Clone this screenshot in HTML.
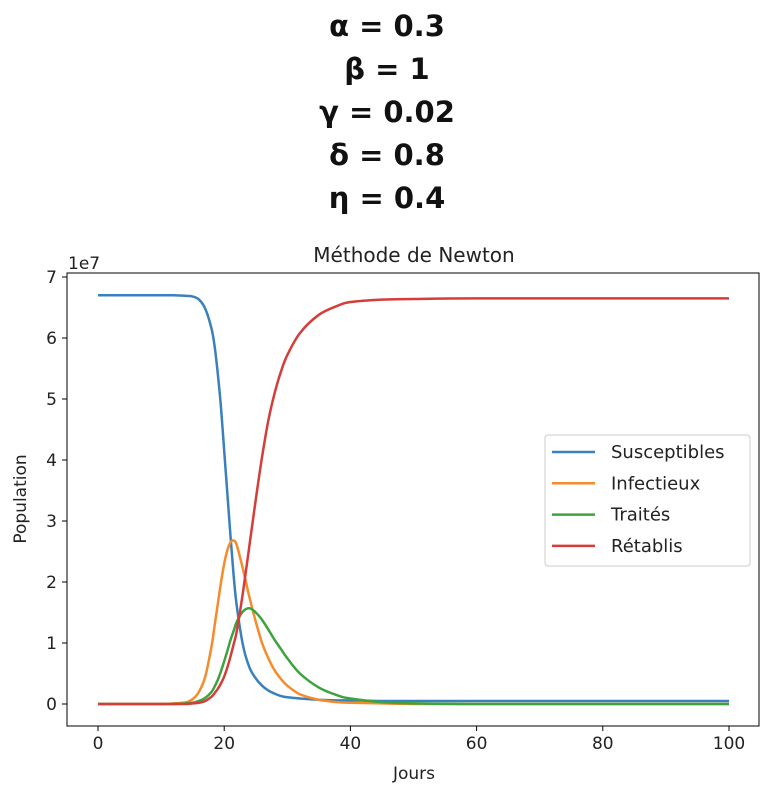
<!DOCTYPE html>
<html><head><meta charset="utf-8"><style>
body{margin:0;background:#fff;width:774px;height:804px;overflow:hidden}
.h{position:absolute;left:0;width:774px;text-align:center;font-family:"DejaVu Sans",sans-serif;font-size:29px;font-weight:bold;color:#111}
</style></head><body>
<div class="h" style="top:9px">α = 0.3</div>
<div class="h" style="top:52px">β = 1</div>
<div class="h" style="top:95px">γ = 0.02</div>
<div class="h" style="top:138px">δ = 0.8</div>
<div class="h" style="top:181px">η = 0.4</div>
<svg id="c" width="774" height="804" style="position:absolute;left:0;top:0" font-family="DejaVu Sans, sans-serif"></svg>
<script>
const days=[0,5,10,12,14,15,16,17,18,18.5,19,19.5,20,20.5,21,21.5,22,23,24,25,26,27,28,29,30,32,35,38,40,45,50,60,80,100];
const susceptibles=[6.7,6.7,6.7,6.7,6.69,6.68,6.63,6.48,6.15,5.85,5.4,4.85,4.15,3.45,2.75,2.1,1.6,0.95,0.6,0.42,0.3,0.22,0.17,0.13,0.11,0.09,0.07,0.06,0.06,0.05,0.05,0.05,0.05,0.05];
const infectieux=[0,0,0,0.01,0.03,0.08,0.2,0.45,0.95,1.3,1.65,2.0,2.3,2.52,2.65,2.68,2.6,2.2,1.75,1.35,1.0,0.75,0.55,0.41,0.3,0.16,0.07,0.03,0.02,0.01,0,0,0,0];
const traites=[0,0,0,0,0.01,0.02,0.05,0.1,0.2,0.29,0.4,0.54,0.7,0.87,1.05,1.2,1.35,1.52,1.57,1.5,1.38,1.22,1.05,0.9,0.75,0.5,0.27,0.14,0.09,0.03,0.01,0,0,0];
const retablis=[0,0,0,0,0,0.01,0.02,0.05,0.12,0.18,0.25,0.34,0.45,0.6,0.78,0.98,1.2,1.85,2.6,3.35,4.05,4.65,5.1,5.45,5.72,6.08,6.38,6.53,6.59,6.63,6.64,6.65,6.65,6.65];
const xTicks=[0,20,40,60,80,100];
const yTicks=[0,1,2,3,4,5,6,7];
const names=["Susceptibles","Infectieux","Traités","Rétablis"];
const colors=["#3a80bd","#f58b2a","#3ea23e","#d43d3a"];
const NS="http://www.w3.org/2000/svg";
const svg=document.getElementById('c');
const L=67,R=759,T=273,B=726;
const xs=d=>98+(d)*6.31;
const ys=v=>704-v*61;
function el(t,a,p){const e=document.createElementNS(NS,t);for(const k in a)e.setAttribute(k,a[k]);(p||svg).appendChild(e);return e;}
const frame=el('rect',{x:L,y:T,width:R-L,height:B-T,fill:'none',stroke:'#000','stroke-width':1});


xTicks.forEach(t=>{
 const l=el('line',{x1:xs(t),x2:xs(t),y1:B,y2:B+5,stroke:'#000'});
 
 
 const tx=el('text',{x:xs(t),y:B+23,'text-anchor':'middle','font-size':17,fill:'#222'});tx.textContent=t;
 
 
});
yTicks.forEach(t=>{
 const l=el('line',{x1:L-5,x2:L,y1:ys(t),y2:ys(t),stroke:'#000'});
 
 
 const tx=el('text',{x:L-10,y:ys(t)+6,'text-anchor':'end','font-size':17,fill:'#222'});tx.textContent=t;
 
 
});
function curve(vals){
 const p=days.map((d,i)=>[xs(d),ys(vals[i])]);
 let s='M'+p[0][0]+','+p[0][1];
 for(let i=0;i<p.length-1;i++){
  const p0=p[Math.max(0,i-1)],p1=p[i],p2=p[i+1],p3=p[Math.min(p.length-1,i+2)];
  const c1=[p1[0]+(p2[0]-p0[0])/6,p1[1]+(p2[1]-p0[1])/6];
  const c2=[p2[0]-(p3[0]-p1[0])/6,p2[1]-(p3[1]-p1[1])/6];
  s+=`C${c1[0]},${c1[1]} ${c2[0]},${c2[1]} ${p2[0]},${p2[1]}`;
 }
 return s;
}
[susceptibles,infectieux,traites,retablis].forEach((v,i)=>{
 const pth=el('path',{d:curve(v),fill:'none',stroke:colors[i],'stroke-width':2.5,'stroke-linejoin':'round'});
 
 
});
const t1=el('text',{x:414,y:262,'text-anchor':'middle','font-size':20,fill:'#222'});t1.textContent='Méthode de Newton';


const t2=el('text',{x:414,y:779,'text-anchor':'middle','font-size':17,fill:'#222'});t2.textContent='Jours';


const t3=el('text',{x:26,y:499,'text-anchor':'middle','font-size':17,fill:'#222',transform:'rotate(-90 26 499)'});t3.textContent='Population';


const t4=el('text',{x:68,y:269,'font-size':17,fill:'#222'});t4.textContent='1e7';


const lg=el('g',{});


el('rect',{x:545,y:435,width:205,height:131,rx:3,fill:'#fff',stroke:'#ccc'},lg);
names.forEach((n,i)=>{
 const y=452+i*31.3;
 const g=el('g',{},lg);
 
 
 el('line',{x1:552,x2:595,y1:y,y2:y,stroke:colors[i],'stroke-width':2.5},g);
 const tx=el('text',{x:611,y:y+6,'font-size':18,fill:'#222'},g);tx.textContent=n;
});
</script>
</body></html>
